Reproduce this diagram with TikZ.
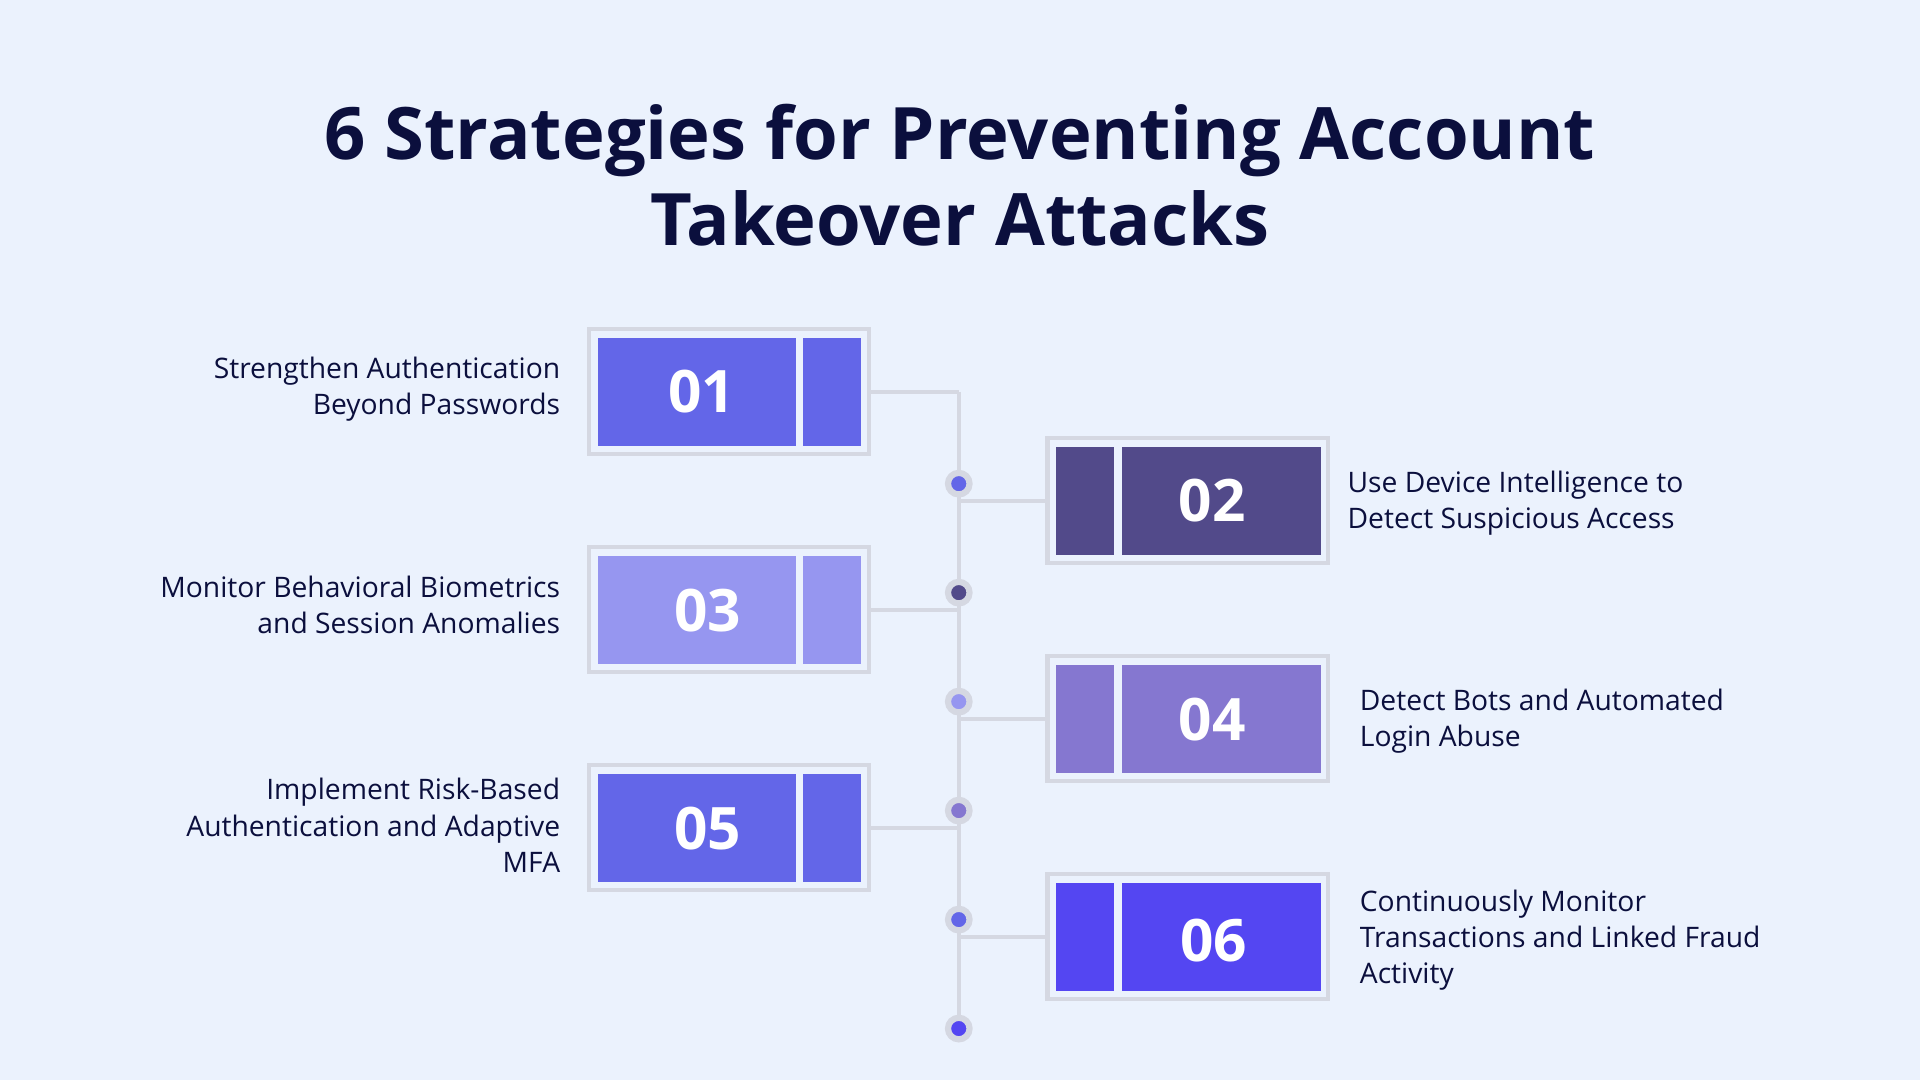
\documentclass[tikz,border=0pt]{standalone}
\usepackage{fontspec}
\setmainfont{Open Sans}
\usetikzlibrary{positioning}
\definecolor{bg}{HTML}{EBF2FD}
\definecolor{navy}{HTML}{0B0F3D}
\definecolor{rim}{HTML}{D5D8E2}
\definecolor{cA}{HTML}{6366E8}
\definecolor{cB}{HTML}{524A8A}
\definecolor{cC}{HTML}{9696F0}
\definecolor{cD}{HTML}{8577D0}
\definecolor{cF}{HTML}{5446F2}
\tikzset{
  box/.style={draw=rim, line width=1.2pt, minimum width=2.8625cm, minimum height=1.275cm, inner sep=0pt},
  num/.style={text=white, font=\fontsize{17}{17}\selectfont\bfseries},
  lbl/.style={text=navy, font=\fontsize{8.2}{10.5}\selectfont, inner sep=0pt},
  dot/.style={circle, draw=rim, line width=1.8pt, minimum size=0.22cm, inner sep=0pt},
  link/.style={rim, line width=1.2pt}
}
\begin{document}
\begin{tikzpicture}[x=0.0125cm,y=-0.0125cm]
  \fill[bg] (0,0) rectangle (1568,882);
  \node (title) at (784,143) [text=navy, align=center, font=\fontsize{21}{25}\selectfont\bfseries]
    {6 Strategies for Preventing Account\\Takeover Attacks};
  % spine
  \coordinate (top) at (783,320);
  \coordinate (bot) at (783,840);
  \draw[link] (top) -- (bot);
  % boxes on the left
  \node (b1) at (595.5,320) [box] {};
  \node (b3) at (595.5,498) [box] {};
  \node (b5) at (595.5,676) [box] {};
  % boxes on the right
  \node (b2) at (970,409) [box] {};
  \node (b4) at (970,587) [box] {};
  \node (b6) at (970,765) [box] {};
  \fill[cA] (488,276) rectangle (650,364); \fill[cA] (656,276) rectangle (703,364);
  \fill[cC] (488,454) rectangle (650,542); \fill[cC] (656,454) rectangle (703,542);
  \fill[cA] (488,632) rectangle (650,720); \fill[cA] (656,632) rectangle (703,720);
  \fill[cB] (862,365) rectangle (910,453); \fill[cB] (916,365) rectangle (1079,453);
  \fill[cD] (862,543) rectangle (910,631); \fill[cD] (916,543) rectangle (1079,631);
  \fill[cF] (862,721) rectangle (910,809); \fill[cF] (916,721) rectangle (1079,809);
  \node (n1) at (573,320) [num] {01};
  \node (n3) at (578,499) [num] {03};
  \node (n5) at (578,677) [num] {05};
  \node (n2) at (990,409) [num] {02};
  \node (n4) at (990,588) [num] {04};
  \node (n6) at (991,768) [num] {06};
  % connectors
  \draw[link] (b1.east) -- (top);
  \draw[link] (b3.east) -- (b3.east -| top);
  \draw[link] (b5.east) -- (b5.east -| top);
  \draw[link] (b2.west) -- (b2.west -| top);
  \draw[link] (b4.west) -- (b4.west -| top);
  \draw[link] (b6.west) -- (b6.west -| top);
  % dots
  \node (d1) at (783,395) [dot, fill=cA] {};
  \node (d2) at (783,484) [dot, fill=cB] {};
  \node (d3) at (783,573) [dot, fill=cC] {};
  \node (d4) at (783,662) [dot, fill=cD] {};
  \node (d5) at (783,751) [dot, fill=cA] {};
  \node (d6) at (783,840) [dot, fill=cF] {};
  % labels
  \node (t1) at (458,318) [lbl, anchor=east, align=right] {Strengthen Authentication\\Beyond Passwords};
  \node (t3) at (458,494) [lbl, anchor=east, align=right] {Monitor Behavioral Biometrics\\and Session Anomalies};
  \node (t5) at (458,674) [lbl, anchor=east, align=right] {Implement Risk-Based\\Authentication and Adaptive\\MFA};
  \node (t2) at (1100,411) [lbl, anchor=west, align=left] {Use Device Intelligence to\\Detect Suspicious Access};
  \node (t4) at (1110,589) [lbl, anchor=west, align=left] {Detect Bots and Automated\\Login Abuse};
  \node (t6) at (1110,768) [lbl, anchor=west, align=left] {Continuously Monitor\\Transactions and Linked Fraud\\Activity};
\end{tikzpicture}
\end{document}
